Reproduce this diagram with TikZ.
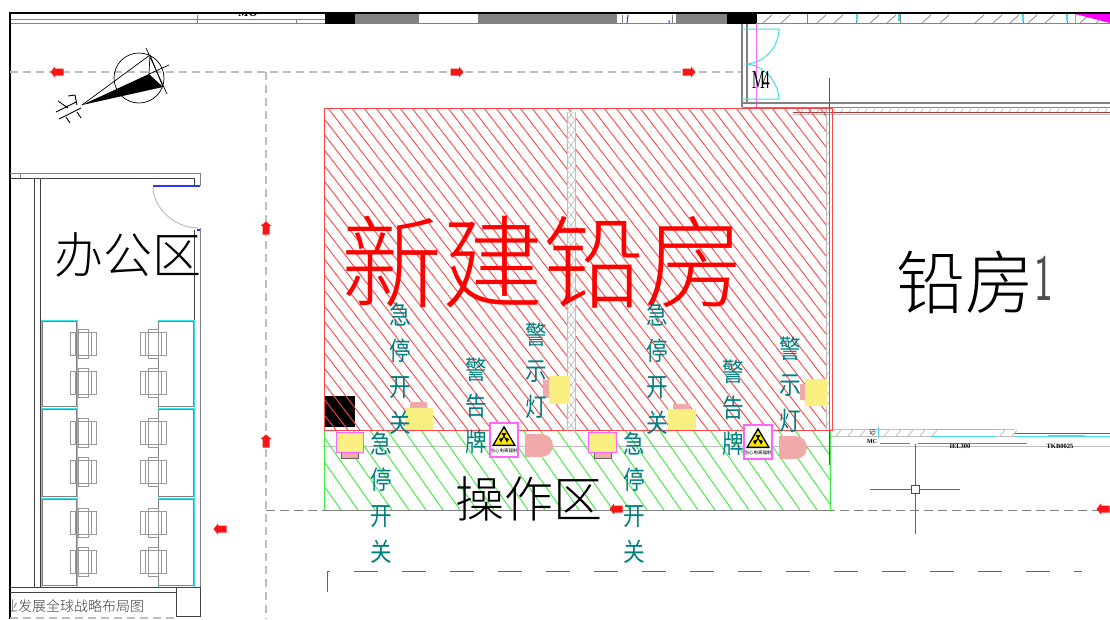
\documentclass[tikz,border=0pt]{standalone}
\usepackage{fontspec}
\setmainfont{Liberation Serif}
\newfontfamily\cjk{Noto Sans CJK SC}
\newfontfamily\cjkl{Noto Sans CJK SC Light}
\definecolor{hatchred}{RGB}{255,70,70}
\definecolor{hatchgreen}{RGB}{60,235,60}
\definecolor{tealtxt}{RGB}{0,128,128}
\definecolor{wallgray}{RGB}{130,130,130}
\definecolor{lightgray2}{RGB}{190,190,190}
\definecolor{cyanline}{RGB}{60,225,235}
\definecolor{paleyellow}{RGB}{250,240,130}
\definecolor{palepink}{RGB}{240,170,170}
\definecolor{signpink}{RGB}{255,100,255}
\definecolor{puremag}{RGB}{255,0,255}
\definecolor{arrowred}{RGB}{250,20,20}
\definecolor{brownline}{RGB}{165,60,60}
\tikzset{
  x=1pt,y=-1pt,
  wall/.style={draw=wallgray,line width=1pt},
  darkwall/.style={draw=black!75,line width=0.9pt},
  route/.style={draw=lightgray2,line width=1.1pt,dash pattern=on 8pt off 5pt},
  route2/.style={draw=wallgray,line width=1pt,dash pattern=on 9pt off 5pt},
  desk/.style={draw=cyanline,line width=1pt},
  chair/.style={draw=black!40,line width=0.8pt},
  vlabel/.style={anchor=north,align=center,text=tealtxt,inner sep=0pt,font=\cjk\fontsize{27}{36}\selectfont},
  biglabel/.style={anchor=center,inner sep=0pt},
  yellowbox/.style={fill=paleyellow,draw=none},
  pinkbox/.style={fill=palepink,draw=none},
  tiny/.style={inner sep=0pt,font=\fontsize{6}{6}\selectfont\bfseries},
}
\newcommand{\vch}[1]{\scalebox{.8}[.95]{#1}}
\newcommand{\redarrow}[3]{\fill[arrowred,shift={(#1,#2)},rotate=#3] (-6.5,0)--(-2,-5.5)--(-2,-3.5)--(6.5,-3.5)--(6.5,3.5)--(-2,3.5)--(-2,5.5)--cycle;}
\newcommand{\chairpic}[2]{\begin{scope}[shift={(#1,#2)}]
 \draw[chair] (-13,-11.5) rectangle (13,11.5);
 \draw[chair] (-5,-14.5) rectangle (5,14.5);
 \draw[chair] (-8,-11.5)--(-8,11.5) (8,-11.5)--(8,11.5) (-5,-11.5)--(5,-11.5) (-5,11.5)--(5,11.5);
\end{scope}}
\newcommand{\signpic}[2]{\begin{scope}[shift={(#1,#2)}]
 \draw[fill=white,draw=signpink,line width=1.1pt] (0,0) rectangle (28,34);
 \fill[black] (14,2.5)--(26,23)--(2,23)--cycle;
 \fill[yellow!90!orange] (14,5.5)--(23.5,21.5)--(4.5,21.5)--cycle;
 \fill[black] (14,14) circle (1.1);
 \fill[black] (14,14)--(11.5,10)--(16.5,10)--cycle;
 \fill[black] (14,14)--(9,16)--(11,19.5)--cycle;
 \fill[black] (14,14)--(19,16)--(17,19.5)--cycle;
 \node[inner sep=0pt,font=\cjk\fontsize{4.5}{5}\selectfont] (#1sign) at (14,28) {当心电离辐射};
\end{scope}}
\newcommand{\dshape}[2]{\fill[palepink,shift={(#1,#2)}] (0,0)--(16,0) .. controls (23,0) and (28,5) .. (28,11.5) .. controls (28,18) and (23,23) .. (16,23)--(0,23)--cycle;}
\begin{document}
\begin{tikzpicture}
\useasboundingbox (0,0) rectangle (1110,619);
\fill[white] (0,0) rectangle (1110,619);

% top band
\fill[black] (325,14) rectangle (355,24);
\fill[wallgray] (355,14) rectangle (419,24);
\fill[wallgray] (478,14) rectangle (617,24);
\fill[wallgray] (676,14) rectangle (727,24);
\fill[black] (727,14) rectangle (757,24);
\draw[wall] (10,19)--(197,19) (10,23.5)--(325,23.5) (197,15)--(197,23) (296,19)--(325,19) (296,19)--(296,23) (197,19)--(296,19);
\draw[wall] (419,23.5)--(478,23.5) (617,23.5)--(676,23.5) (757,23.5)--(1110,23.5);
\draw[blue!80,line width=1pt] (628,15)--(627,23) (669,20)--(669,23);
\draw[wall] (622,15)--(622,23) (672,15)--(672,23);
\draw[wall] (807,14)--(807,23) (856,14)--(856,23) (900,14)--(900,23) (1023,14)--(1023,23) (1067,14)--(1067,23);
\foreach \x in {763,781,817,834,870,887,922,940,975,993,1010,1028,1045,1080,1096}
  \draw[black!45,line width=0.8pt] (\x,23)--(\x+9,15);
\draw[cyanline,line width=1.2pt] (857,14)--(857,21) (899,14)--(899,21) (1023,14)--(1023,21) (1067,14)--(1067,21);
\fill[puremag] (1075,14)--(1110,14)--(1110,23)--cycle;
\draw[signpink,line width=1pt] (1075,14)--(1075,23);
\begin{scope}
 \clip (230,14) rectangle (270,24);
 \node[inner sep=0pt,font=\bfseries\itshape\fontsize{12}{12}\selectfont] (mzero) at (248,13) {MO};
\end{scope}

% frame
\draw[black,line width=1.5pt] (1110,13)--(10,13)--(10,619);

% dashed routes
\draw[route] (10,72)--(741,72);
\draw[route] (266,72)--(266,619);
\draw[route2] (266,510)--(1110,510);
\draw[route] (10,618)--(176,618);
\draw[black!60,line width=1pt,dash pattern=on 24pt off 24pt] (327,592)--(327,571)--(1082,571);

% compass
\coordinate (capex) at (82,105);
\coordinate (cup) at (150,55);
\coordinate (cin) at (149,74);
\coordinate (clow) at (163,87);
\draw[black,line width=0.7pt] (139,78) circle (25);
\fill[black] (capex)--(cin)--(clow)--cycle;
\draw[black,line width=0.7pt] (capex)--(cup)--(clow);
\draw[black,line width=0.7pt] (146,48)--(167,94) (cin)--(169,65) (cup)--(cin);
\draw[black,line width=0.9pt] (56,112)--(76,102) (59,119)--(81,108) (58,101)--(68,108) (77,112)--(81,118) (66,117)--(70,123) (68,96)--(75,95)--(77,105);

% office walls
\draw[darkwall] (10,178)--(194,178) (34,178)--(34,587) (40,178)--(40,587) (194,178)--(194,186) (194,230)--(194,587);
\draw[wall] (10,173)--(200,173)--(200,186) (200,228)--(200,587) (20,173)--(20,178);
\draw[blue!80,line width=1.2pt] (153,186)--(200,186);
\draw[blue!80,line width=1.5pt] (197,230)--(200,230);
\draw[lightgray2,line width=1pt] (153,187) .. controls (153,208) and (175,228) .. (198,228);

% desks
\foreach \y/\yy in {320/408,408/498,498/587}{
  \draw[desk] (41,\y) rectangle (77,\yy);
  \draw[desk] (158,\y) rectangle (194,\yy);
  \draw[wall,line width=.6pt] (42,\y+1.5) rectangle (76.5,\yy-1.5);
  \draw[wall,line width=.6pt] (158.5,\y+1.5) rectangle (193,\yy-1.5);
}
\foreach \y in {344,383,433,472,523,562}{
  \chairpic{83}{\y}
  \chairpic{153}{\y}
}
\draw[darkwall] (10,587)--(200,587) (10,592)--(176,592) (176,587)--(176,616)--(200,616)--(200,587);
\begin{scope}
 \clip (11,592) rectangle (176,616);
 \node[anchor=west,inner sep=0pt,text=black!75,font=\cjkl\fontsize{14}{14}\selectfont] (title) at (4,606) {业发展全球战略布局图};
\end{scope}

% M4 door
\draw[wall,line width=1.2pt] (742,24)--(742,107) (747,24)--(747,103);
\draw[cyanline,line width=1pt] (742,29)--(779,29)--(779,30) .. controls (778,48) and (765,62) .. (747,64) .. controls (765,66) and (778,82) .. (779,99) -- (742,99);
\draw[signpink,line width=1pt] (756,23)--(756,108);
\node[inner sep=0pt,font=\fontsize{26}{26}\selectfont] (mfour) at (761,80) {\scalebox{.55}[1]{M\kern-4pt 4}};

% upper wall
\draw[wall,line width=1.3pt] (742,103)--(1110,103);
\draw[wall,line width=.8pt] (742,107.5)--(1110,107.5);
\draw[lightgray2,line width=.8pt] (793,114)--(1110,114);
\foreach \x in {800,808,...,1110} \draw[lightgray2,line width=.7pt] (\x,114)--(\x+3,109);
\draw[brownline,line width=.6pt] (793,112)--(1110,112);
\draw[brownline,line width=.8pt] (829,78)--(829,108);

% lower wall band
\foreach \x in {836,848,...,932,1000,1012} \draw[lightgray2,line width=.8pt] (\x,436)--(\x+5,430);
\draw[lightgray2,line width=.8pt] (830,429.5)--(1015,429.5) (830,436)--(932,436) (995,436)--(1015,436);
\draw[cyanline,line width=1pt] (932,429.5)--(995,429.5) (932,436)--(995,436) (1015,436.5)--(1110,436.5) (878,427)--(878,438);
\draw[cyanline,line width=2pt] (1048,435.5)--(1085,435.5);
\draw[brownline,line width=.8pt] (1015,433)--(1110,433);
\draw[lightgray2,line width=1pt] (323,446)--(1110,446);
\draw[hatchred,line width=1pt] (880,443)--(910,443) (918,443)--(1027,443);
\node[tiny,font=\cjk\fontsize{6}{6}\selectfont] (tagA) at (872,432) {记};
\node[tiny] (tagB) at (872,442) {MC};
\node[tiny,font=\fontsize{6.5}{7}\selectfont\bfseries] (tagC) at (960,446) {IEL300};
\node[tiny,font=\fontsize{6.5}{7}\selectfont\bfseries] (tagD) at (1060,446) {TKB0025};

% crosshair
\draw[black!60,line width=1pt] (870,489)--(960,489) (915,444)--(915,534);
\draw[black!70,fill=white,line width=1pt] (911,485) rectangle (919,493);

% black square under hatch
\fill[black] (325,396) rectangle (355,427);

% green hatch
\begin{scope}
 \clip (324,430) rectangle (830,510);
 \foreach \x in {200,217,...,860} \draw[hatchgreen,line width=.9pt] (\x,430)--(\x+56,510);
\end{scope}
% red hatch
\begin{scope}
 \clip (324,108) rectangle (826,430);
 \foreach \x in {76,88,...,830} \draw[hatchred,line width=.9pt] (\x,108)--(\x+248,430);
\end{scope}
\draw[brownline,line width=.8pt] (829,430)--(829,465);
\draw[hatchgreen,line width=1pt] (324,430) rectangle (830,510);
\draw[lightgray2,line width=.8pt] (826,108)--(826,430);
\foreach \y in {116,126,...,426} \draw[lightgray2,line width=.7pt] (826,\y)--(830,\y-5);
\draw[hatchred,line width=.9pt] (324,430)--(324,108)--(832,108)--(832,430)--cycle;
\draw[hatchred,line width=.9pt] (829.5,108)--(829.5,430);
\draw[black!50,line width=.8pt] (323,510)--(830,510);

% centre column
\fill[white] (567,112) rectangle (575,430);
\begin{scope}
 \clip (567,112) rectangle (575,430);
 \foreach \y in {100,110,...,430}{
  \draw[lightgray2,line width=.7pt] (567,\y)--(575,\y+10);
  \draw[lightgray2,line width=.7pt] (575,\y)--(567,\y+10);
 }
\end{scope}
\draw[lightgray2,line width=.8pt] (567,112)--(567,430) (575,112)--(575,430);

% devices
\fill[pinkbox] (410,402) rectangle (427,408);
\fill[yellowbox] (405,408) rectangle (433,430);
\fill[pinkbox] (673,404) rectangle (690,409);
\fill[yellowbox] (668,409) rectangle (696,430);
\fill[pinkbox] (543,380) rectangle (549,398);
\fill[yellowbox] (549,376) rectangle (570,404);
\fill[pinkbox] (800,384) rectangle (805,400);
\fill[yellowbox] (805,379) rectangle (827,406);
\draw[fill=palepink,draw=black!60,line width=.7pt] (341,452) rectangle (358,458);
\draw[fill=paleyellow,draw=signpink,line width=1pt] (336,432) rectangle (363,452);
\draw[fill=palepink,draw=black!60,line width=.7pt] (594,452) rectangle (611,458);
\draw[fill=paleyellow,draw=signpink,line width=1pt] (588,432) rectangle (616,452);
\signpic{490}{423}
\signpic{744}{425}
\dshape{525}{434}
\dshape{779}{436}

% arrows
\redarrow{57}{72}{0}
\redarrow{457}{72}{180}
\redarrow{689}{72}{180}
\redarrow{266}{228}{270}
\redarrow{266}{441}{270}
\redarrow{220}{529}{0}
\redarrow{616}{509}{0}
\redarrow{1103}{509}{0}

% labels
\node[biglabel,text=red,font=\cjkl\fontsize{101}{101}\selectfont] (newroom) at (543,262) {新建铅房};
\node[biglabel,font=\cjkl\fontsize{49}{49}\selectfont] (office) at (128,255) {办公区};
\node[biglabel,font=\cjkl\fontsize{69}{69}\selectfont] (room) at (965,282) {铅房};
\node[biglabel,text=black!70,font=\sffamily\fontsize{66}{66}\selectfont] (roomno) at (1044,278) {\scalebox{.6}[1]{1}};
\node[biglabel,font=\cjkl\fontsize{49}{49}\selectfont] (oparea) at (529,499) {操作区};

\node[vlabel] (v1) at (400,303) {\vch{急}\\\vch{停}\\\vch{开}\\\vch{关}};
\node[vlabel] (v2) at (476,358) {\vch{警}\\\vch{告}\\\vch{牌}};
\node[vlabel] (v3) at (536,323) {\vch{警}\\\vch{示}\\\vch{灯}};
\node[vlabel] (v4) at (381,432) {\vch{急}\\\vch{停}\\\vch{开}\\\vch{关}};
\node[vlabel] (v5) at (657,303) {\vch{急}\\\vch{停}\\\vch{开}\\\vch{关}};
\node[vlabel] (v6) at (733,360) {\vch{警}\\\vch{告}\\\vch{牌}};
\node[vlabel] (v7) at (790,337) {\vch{警}\\\vch{示}\\\vch{灯}};
\node[vlabel] (v8) at (634,432) {\vch{急}\\\vch{停}\\\vch{开}\\\vch{关}};
\end{tikzpicture}
\end{document}
